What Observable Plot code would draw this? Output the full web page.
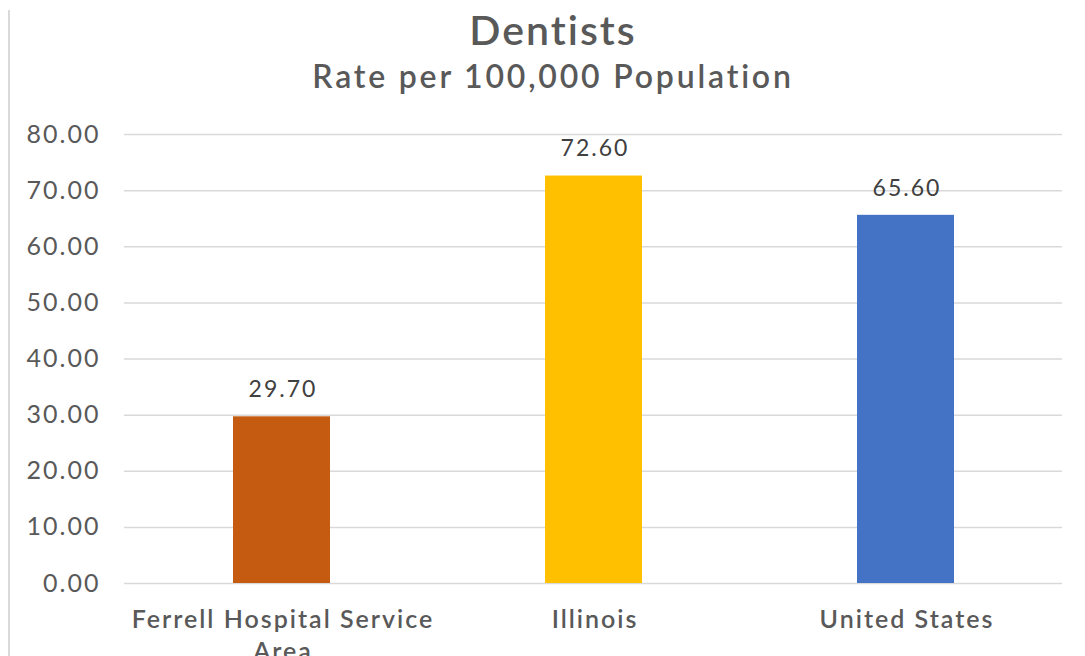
<!DOCTYPE html>
<html>
<head>
<meta charset="utf-8">
<script src="https://cdn.jsdelivr.net/npm/d3@7"></script>
<script src="https://cdn.jsdelivr.net/npm/@observablehq/plot@0.6"></script>
<style>
  body { margin: 0; background: #fff; font-family: Lato, "Open Sans", sans-serif; }
  #wrap { position: relative; width: 1085px; height: 656px; overflow: hidden; }
  #border { position: absolute; left: 8px; top: 10px; width: 2px; height: 660px; background: #d9d9d9; }
  #title { position: absolute; left: 0; width: 1106px; top: 5px; text-align: center; font-size: 41px; font-weight: 600; color: #595959; letter-spacing: 2px; }
  #subtitle { position: absolute; left: 0; width: 1106px; top: 56px; text-align: center; font-size: 32px; font-weight: 600; color: #595959; letter-spacing: 2.8px; }
  #chart { position: absolute; left: 0; top: 100px; }
  .ytick text { letter-spacing: 2px; }
  .vlab text { letter-spacing: 2px; }
  .xlab text { letter-spacing: 2px; }
</style>
</head>
<body>
<div id="wrap">
  <div id="border"></div>
  <div id="title">Dentists</div>
  <div id="subtitle">Rate per 100,000 Population</div>
  <div id="chart"></div>
</div>
<script>
const categories = ["Ferrell Hospital Service Area", "Illinois", "United States"];
const labels = ["Ferrell Hospital Service\nArea", "Illinois", "United States"];
const values = [29.70, 72.60, 65.60];
const colors = ["#C55A11", "#FFC000", "#4472C4"];
const yTicks = [0, 10, 20, 30, 40, 50, 60, 70, 80];

const data = categories.map((c, i) => ({category: c, label: labels[i], value: values[i], color: colors[i]}));

const chart = Plot.plot({
  width: 1085,
  height: 556,
  marginTop: 34,
  marginBottom: 73,
  marginLeft: 124,
  marginRight: 23,
  style: {fontFamily: "Lato, 'Open Sans', sans-serif", color: "#595959", background: "transparent", overflow: "visible"},
  x: {domain: categories, paddingInner: 0.69, paddingOuter: 0.345, axis: null},
  y: {domain: [0, 80], ticks: yTicks, axis: null},
  marks: [
    Plot.ruleY(yTicks, {stroke: "#d9d9d9", strokeWidth: 1.5}),
    Plot.text(yTicks, {y: d => d, text: d => d.toFixed(2), frameAnchor: "left", dx: -24, textAnchor: "end", fontSize: 25, fill: "#595959", className: "ytick"}),
    Plot.barY(data, {x: "category", y: "value", fill: "color"}),
    Plot.text(data, {x: "category", y: "value", text: d => d.value.toFixed(2), dy: -27, dx: 1, fontSize: 23, fill: "#404040", className: "vlab"}),
    Plot.text(data, {x: "category", y: 0, text: "label", dy: 22, dx: 1, lineAnchor: "top", fontSize: 25, fontWeight: 600, fill: "#595959", lineHeight: 1.28, className: "xlab"})
  ]
});
document.getElementById("chart").appendChild(chart);
</script>
</body>
</html>
